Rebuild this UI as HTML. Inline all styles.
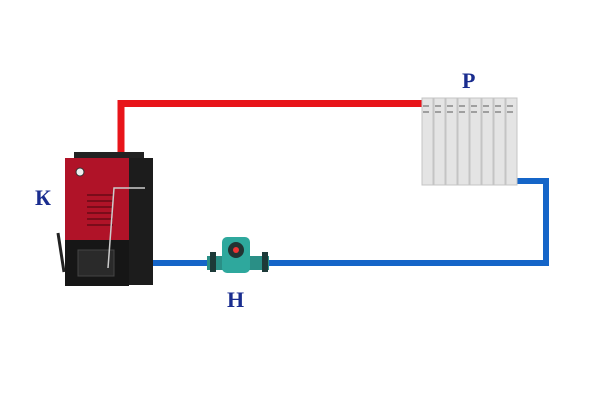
<!DOCTYPE html>
<html><head><style>body{margin:0;background:#fff}</style></head><body>
<svg width="600" height="400" viewBox="0 0 600 400" xmlns="http://www.w3.org/2000/svg">
<rect width="600" height="400" fill="#fff"/>
<!-- red pipe -->
<path d="M121 160 V103.5 H424" fill="none" stroke="#e8141a" stroke-width="7"/>
<!-- blue pipe -->
<path d="M515 181 H546 V263 H150" fill="none" stroke="#1565c8" stroke-width="6"/>
<!-- boiler -->
<rect x="74" y="152" width="70" height="6" fill="#222"/>
<rect x="128" y="158" width="25" height="127" fill="#1c1c1c"/>
<rect x="65" y="158" width="64" height="85" fill="#b01328"/>
<rect x="65" y="240" width="64" height="46" fill="#161616"/>
<rect x="78" y="250" width="36" height="26" fill="#2a2a2a" stroke="#444"/>
<g stroke="#7a0c1a" stroke-width="2"><line x1="87" y1="195" x2="113" y2="195"/><line x1="87" y1="201" x2="113" y2="201"/><line x1="87" y1="207" x2="113" y2="207"/><line x1="87" y1="213" x2="113" y2="213"/><line x1="87" y1="219" x2="113" y2="219"/><line x1="87" y1="225" x2="113" y2="225"/></g>
<circle cx="80" cy="172" r="4" fill="#eee" stroke="#333"/>
<path d="M108 268 L114 188 L145 188" fill="none" stroke="#ccc" stroke-width="1.5"/>
<line x1="58" y1="233" x2="64" y2="272" stroke="#222" stroke-width="3"/>
<!-- pump -->
<rect x="207" y="256" width="62" height="14" fill="#2a8f86"/>
<rect x="210" y="252" width="6" height="20" fill="#1d3a38"/>
<rect x="262" y="252" width="6" height="20" fill="#1d3a38"/>
<rect x="222" y="237" width="28" height="36" rx="5" fill="#2ea89d"/>
<circle cx="236" cy="250" r="8" fill="#233"/>
<circle cx="236" cy="250" r="3" fill="#e33"/>
<!-- radiator -->
<g fill="#e4e4e4" stroke="#c4c4c4" stroke-width="1">
<rect x="422" y="98" width="11" height="87"/><rect x="434" y="98" width="11" height="87"/><rect x="446" y="98" width="11" height="87"/><rect x="458" y="98" width="11" height="87"/><rect x="470" y="98" width="11" height="87"/><rect x="482" y="98" width="11" height="87"/><rect x="494" y="98" width="11" height="87"/><rect x="506" y="98" width="11" height="87"/>
</g>
<g stroke="#888" stroke-width="1.5"><line x1="423" y1="106" x2="517" y2="106" stroke-dasharray="6 6"/><line x1="423" y1="112" x2="517" y2="112" stroke-dasharray="6 6"/></g>
<!-- labels -->
<g font-family="Liberation Serif, serif" font-weight="bold" font-size="22" fill="#1a2d8f">
<text x="35" y="205">К</text><text x="227" y="307">Н</text><text x="462" y="88">Р</text>
</g>
</svg>
</body></html>
